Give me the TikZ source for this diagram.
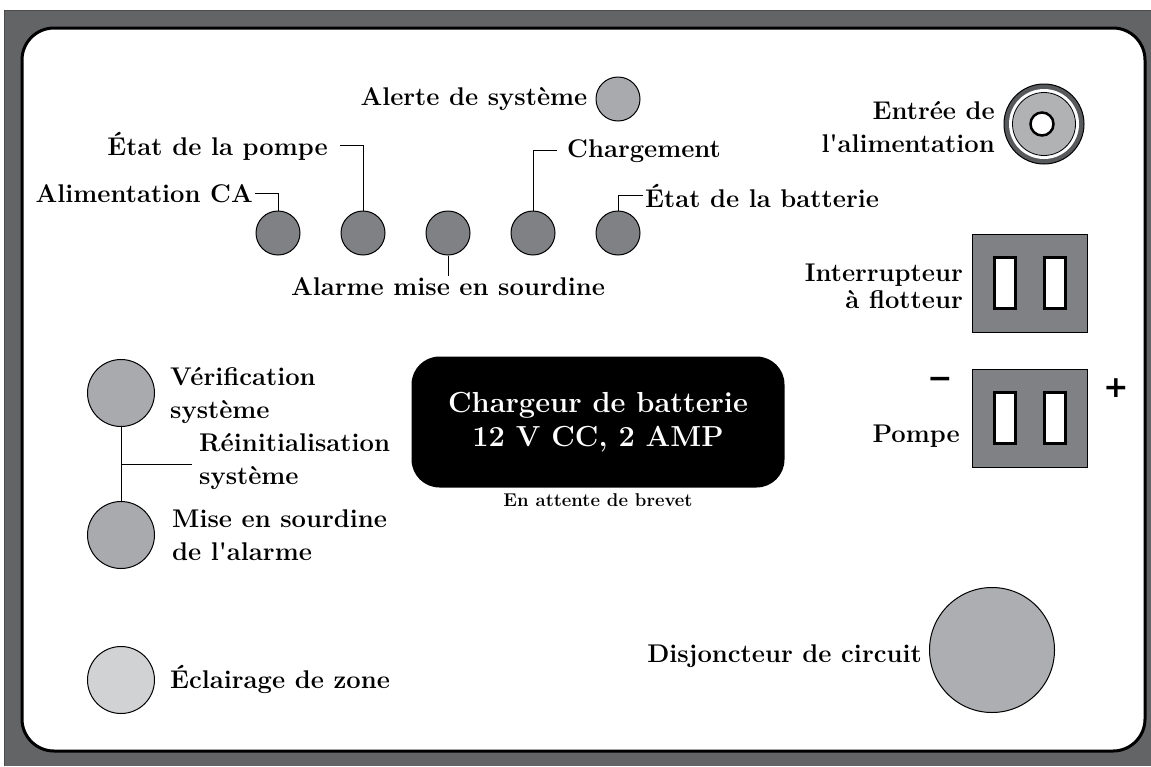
\documentclass[tikz,border=0pt]{standalone}
\usepackage{fontspec}
\newfontfamily\signfont{DejaVu Sans}
\usetikzlibrary{positioning,calc}
\definecolor{framegray}{HTML}{636466}
\definecolor{ledgray}{HTML}{808185}
\definecolor{knobgray}{HTML}{A9AAAD}
\definecolor{palegray}{HTML}{D1D2D4}
\definecolor{breakergray}{HTML}{ADAEB1}
\definecolor{ringdark}{HTML}{58595B}
\definecolor{ringgray}{HTML}{B1B2B4}
\begin{document}
\begin{tikzpicture}[x=1pt,y=-1pt,
    lbl/.style={inner sep=2pt, font=\fontsize{25.6}{33}\selectfont\bfseries},
    sign/.style={inner sep=0pt, font=\fontsize{30}{30}\selectfont\signfont\bfseries},
    led/.style={draw, circle, line width=1pt, fill=ledgray, minimum size=44pt, inner sep=0pt},
    knob/.style={draw, circle, line width=1pt, fill=knobgray, minimum size=67pt, inner sep=0pt},
    socket/.style={draw, line width=1pt, fill=ledgray, minimum width=115pt, minimum height=98pt, inner sep=0pt},
    slot/.style={draw, line width=2.5pt, fill=white, minimum width=21pt, minimum height=51pt, inner sep=0pt},
    leader/.style={line width=1pt}]
        \useasboundingbox (0,0) rectangle (1151,766);
        \fill[framegray] (4,10) rectangle (1151,766);
        \draw[line width=1pt, black!70] (4,766) -- (4,10) -- (1151,10);
        \draw[fill=white, line width=3pt, rounded corners=32pt] (22,28) rectangle (1145,751);

        % indicator row
        \node (ac) [led] at (278,233) {};
        \node (pump) [led, right=40pt of ac] {};
        \node (mute) [led, right=40pt of pump] {};
        \node (chg) [led, right=40pt of mute] {};
        \node (batt) [led, right=40pt of chg] {};
        \node (alert) [led, fill=knobgray] at (618,99) {};

        \node (acLbl) [lbl, anchor=base east] at (255,202) {Alimentation CA};
        \node (pumpLbl) [lbl, anchor=base east] at (330,155) {État de la pompe};
        \node (chgLbl) [lbl, anchor=base west] at (565,157) {Chargement};
        \node (battLbl) [lbl, anchor=base west] at (643,207) {État de la batterie};
        \node (muteLbl) [lbl, below=20pt of mute] {Alarme mise en sourdine};
        \node (alertLbl) [lbl, left=6pt of alert] {Alerte de système};

        \draw[leader] (acLbl.east) -| (ac.north);
        \draw[leader] ([xshift=10pt]pumpLbl.east) -| (pump.north);
        \draw[leader] ([xshift=-8pt]chgLbl.west) -| (chg.north);
        \draw[leader] (battLbl.west) -| (batt.north);
        \draw[leader] (mute.south) -- (muteLbl.north);

        % power input
        \node (jack) [draw, circle, line width=1pt, fill=ringdark, minimum size=80pt] at (1044,124) {};
        \node (jackGap) [circle, fill=white, minimum size=70pt] at (jack.center) {};
        \node (jackRing) [draw, circle, line width=0.8pt, fill=ringgray, minimum size=63pt] at (jack.center) {};
        \node (jackHole) [draw, circle, line width=2.5pt, fill=white, minimum size=23pt] at ([xshift=-2pt]jack.center) {};
        \node (jackLbl) [lbl, anchor=base east, align=right] at (997,152) {Entrée de\\l\textquotesingle alimentation};

        % float switch and pump sockets
        \node (float) [socket] at (1030,283) {};
        \node (floatL) [slot] at ([xshift=-25pt]float.center) {};
        \node (floatR) [slot] at ([xshift=25pt]float.center) {};
        \node (floatLbl) [lbl, anchor=base east, align=right] at (965,308) {Interrupteur\\[-6pt]à flotteur};

        \node (plug) [socket] at (1030,418) {};
        \node (plugL) [slot] at ([xshift=-25pt]plug.center) {};
        \node (plugR) [slot] at ([xshift=25pt]plug.center) {};
        \node (plugLbl) [lbl, anchor=base east] at (962,442) {Pompe};
        \node (minus) [sign] at (940,383) {−};
        \node (plus) [sign] at (1116,388) {+};

        % charger plate
        \node (charger) [fill=black, text=white, rounded corners=28pt, minimum width=373pt, minimum height=131pt, align=center, font=\fontsize{29}{34}\selectfont\bfseries] at (598,422) {Chargeur de batterie\\12 V CC, 2 AMP};
        \node (patent) [below=5pt of charger, inner sep=1pt, font=\fontsize{18.5}{20}\selectfont\bfseries] {En attente de brevet};

        % push buttons
        \node (verif) [knob] at (121,393) {};
        \node (silence) [knob] at (121,535) {};
        \node (zone) [knob, fill=palegray] at (121,680) {};
        \node (verifLbl) [lbl, anchor=base west, align=left] at (168,418) {Vérification\\système};
        \node (resetLbl) [lbl, anchor=base west, align=left] at (197,484) {Réinitialisation\\système};
        \node (silenceLbl) [lbl, anchor=base west, align=left] at (170,560) {Mise en sourdine\\de l\textquotesingle alarme};
        \node (zoneLbl) [lbl, anchor=base west] at (168,688) {Éclairage de zone};

        \coordinate (junction) at ($(verif)!0.5!(silence)$);
        \draw[leader] (verif) -- (silence);
        \draw[leader] (junction) -- ([xshift=-5pt]junction -| resetLbl.west);

        % breaker
        \node (breaker) [draw, circle, line width=1pt, fill=breakergray, minimum size=125pt] at (992,650) {};
        \node (breakerLbl) [lbl, anchor=base east] at (924,662) {Disjoncteur de circuit};
    \end{tikzpicture}
\end{document}
